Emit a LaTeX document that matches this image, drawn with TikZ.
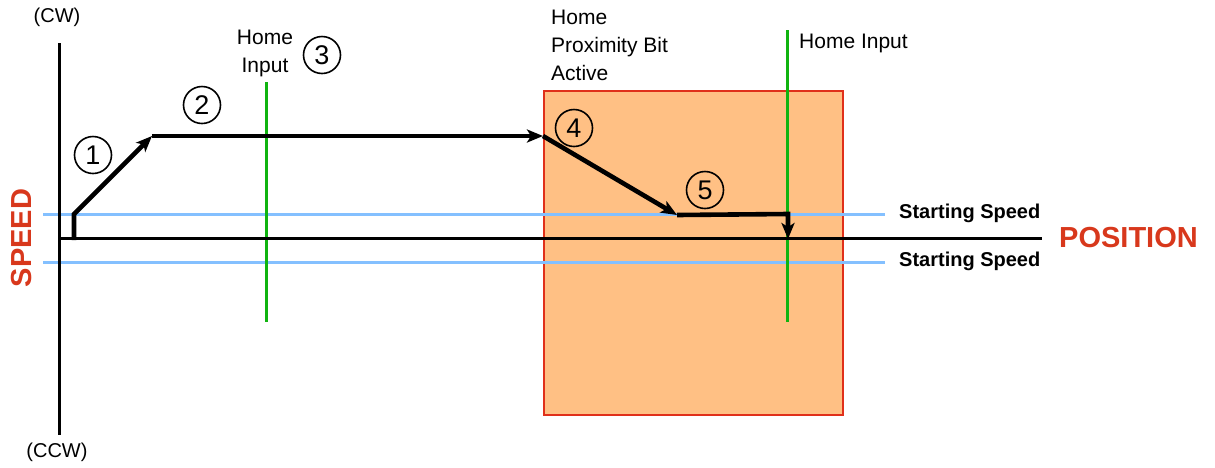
\documentclass[tikz,border=0pt]{standalone}
\usepackage{fontspec}
\setmainfont{Liberation Sans}
\usetikzlibrary{arrows.meta}
\definecolor{axred}{HTML}{D8381C}
\definecolor{zonefill}{HTML}{FFC084}
\definecolor{zoneedge}{HTML}{E0301A}
\definecolor{speedblue}{HTML}{84C0FF}
\definecolor{homegreen}{HTML}{10B410}
\begin{document}
\begin{tikzpicture}[x=1pt,y=-1pt,
  axis/.style={line width=3pt,black},
  blueline/.style={line width=3pt,speedblue},
  greenline/.style={line width=3pt,homegreen},
  motion/.style={line width=4.6pt,black,line join=miter},
  tip/.style={-{Stealth[length=16pt,width=13pt,inset=4pt]}},
  num/.style={draw,circle,line width=1.6pt,minimum size=37pt,inner sep=0pt,font=\fontsize{27}{27}\selectfont},
  lbl/.style={font=\fontsize{21}{28}\selectfont,inner sep=0pt},
  sslbl/.style={font=\fontsize{20}{20}\selectfont\bfseries,inner sep=0pt,anchor=west},
  biglbl/.style={font=\fontsize{29}{29}\selectfont\bfseries,text=axred,inner sep=0pt}]
\useasboundingbox (0,0) rectangle (1215,467);
% zone
\node[draw=zoneedge,line width=2.4pt,fill=zonefill,minimum width=299pt,minimum height=324pt,inner sep=0pt,anchor=north west] (zone) at (543,90) {};
% blue starting speed lines
\coordinate (b1s) at (43,214); \coordinate (b1e) at (885,214);
\coordinate (b2s) at (43,262); \coordinate (b2e) at (885,262);
\draw[blueline] (b1s) -- (b1e);
\draw[blueline] (b2s) -- (b2e);
% green home input lines
\coordinate (g1t) at (266,82); \coordinate (g1b) at (266,322);
\coordinate (g2t) at (787,30); \coordinate (g2b) at (787,322);
\draw[greenline] (g1t) -- (g1b);
\draw[greenline] (g2t) -- (g2b);
% axes
\coordinate (vt) at (59,43); \coordinate (vb) at (59,435);
\coordinate (hl) at (59,238); \coordinate (hr) at (1042,238);
\draw[axis] (vt) -- (vb);
\draw[axis] (hl) -- (hr);
% motion profile
\coordinate (p0) at (74,240);
\coordinate (p1) at (74,214);
\coordinate (p2) at (152,136);
\coordinate (p3) at (543,136);
\coordinate (p4) at (677,215);
\coordinate (p5) at (788,214);
\coordinate (p6) at (788,239);
\draw[motion,tip] (p0) -- (p1) -- (p2);
\draw[motion,tip] (p2) -- (p3);
\draw[motion,tip] (p3) -- (p4);
\draw[motion,tip] (p4) -- (p5) -- (p6);
% circled numbers
\node[num] (n1) at (93,155) {1};
\node[num] (n2) at (202,105) {2};
\node[num] (n3) at (322,55) {3};
\node[num] (n4) at (574,128) {4};
\node[num] (n5) at (705,190) {5};
% labels
\node[lbl,font=\fontsize{20}{20}\selectfont] (cw) at (57,17) {(CW)};
\node[lbl,font=\fontsize{20}{20}\selectfont] (ccw) at (57,452) {(CCW)};
\node[lbl,align=center,anchor=north] (hi1) at (265,30) {Home\\Input};
\node[lbl,align=left,anchor=north west] (prox) at (551,10) {Home\\Proximity Bit\\Active};
\node[lbl,anchor=west] (hi2) at (799,43) {Home Input};
\node[sslbl] (ss1) at (899,213) {Starting Speed};
\node[sslbl] (ss2) at (899,261) {Starting Speed};
\node[biglbl,anchor=west] (pos) at (1059,238) {POSITION};
\node[biglbl,rotate=90] (speed) at (22,238) {SPEED};
\end{tikzpicture}
\end{document}
